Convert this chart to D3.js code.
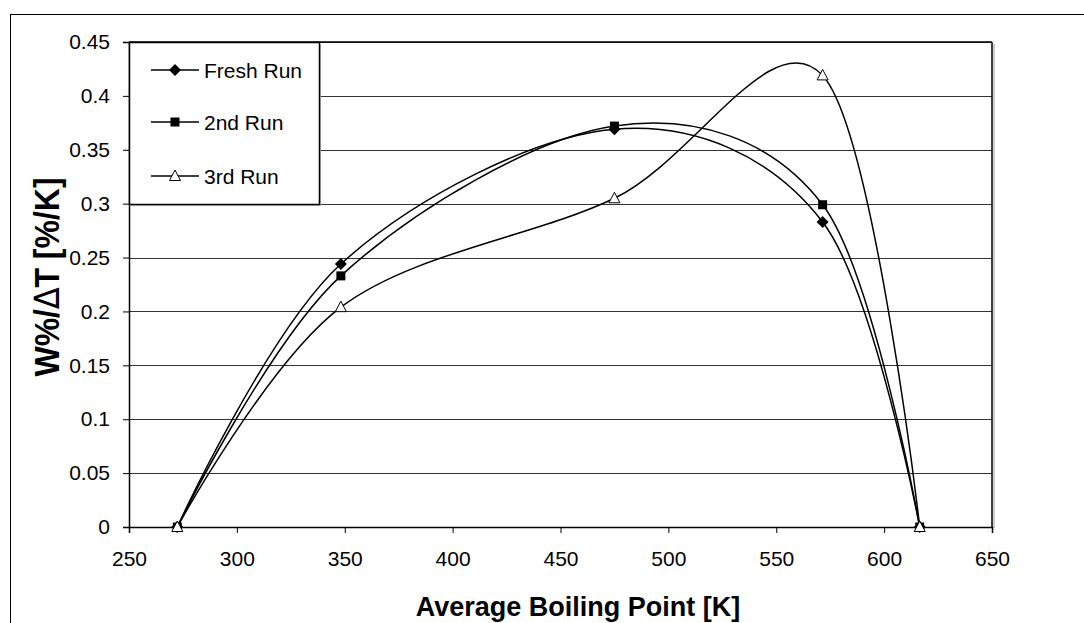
<!DOCTYPE html>
<html>
<head>
<meta charset="utf-8">
<script src="https://cdn.jsdelivr.net/npm/d3@7"></script>
<style>
  html, body { margin: 0; padding: 0; background: #fff; }
  svg { display: block; font-family: "Liberation Sans", Arial, sans-serif; }
</style>
</head>
<body>
<svg id="chart" width="1084" height="623"></svg>
<script>
// Average boiling point of each cut [K]
const boilingPoints = [272.4, 348.2, 475.0, 571.5, 616.5];
// Normalised mass fraction per kelvin for each run
const freshRun  = [0, 0.244, 0.369, 0.283, 0];
const secondRun = [0, 0.233, 0.372, 0.299, 0];
const thirdRun  = [0, 0.204, 0.305, 0.419, 0];
const seriesNames = ["Fresh Run", "2nd Run", "3rd Run"];
const xTicks = [250, 300, 350, 400, 450, 500, 550, 600, 650];
const yTicks = [0, 0.05, 0.1, 0.15, 0.2, 0.25, 0.3, 0.35, 0.4, 0.45];

const series = [
  { name: seriesNames[0], values: freshRun,  marker: "diamond" },
  { name: seriesNames[1], values: secondRun, marker: "square" },
  { name: seriesNames[2], values: thirdRun,  marker: "triangle" }
];

const svg = d3.select("#chart");
const plot = { left: 129, right: 992, top: 42, bottom: 527 };
const labelFont = 21;

const x = d3.scaleLinear().domain([250, 650]).range([plot.left, plot.right]);
const y = d3.scaleLinear().domain([0, 0.45]).range([plot.bottom, plot.top]);

// outer chart frame (runs past the right and bottom edges)
svg.append("rect")
  .attr("x", 10.5).attr("y", 14.5).attr("width", 1200).attr("height", 800)
  .attr("fill", "none").attr("stroke", "#000").attr("stroke-width", 1);

// plot-area shadow
svg.append("line")
  .attr("x1", plot.right + 2).attr("x2", plot.right + 2)
  .attr("y1", plot.top + 2).attr("y2", plot.bottom + 1)
  .attr("stroke", "#bbb").attr("stroke-width", 1.5);

// horizontal gridlines
svg.append("g").selectAll("line")
  .data(yTicks.filter(d => d > 0))
  .join("line")
  .attr("x1", plot.left).attr("x2", plot.right)
  .attr("y1", d => Math.round(y(d)) + 0.5).attr("y2", d => Math.round(y(d)) + 0.5)
  .attr("stroke", "#333").attr("stroke-width", 1);

// plot-area frame (top and right)
svg.append("line")
  .attr("x1", plot.left).attr("x2", plot.right)
  .attr("y1", plot.top).attr("y2", plot.top)
  .attr("stroke", "#000").attr("stroke-width", 1.5);
svg.append("line")
  .attr("x1", plot.right).attr("x2", plot.right)
  .attr("y1", plot.top).attr("y2", plot.bottom)
  .attr("stroke", "#000").attr("stroke-width", 1.5);

// axes
const xAxis = d3.axisBottom(x).tickValues(xTicks).tickSize(6).tickPadding(18)
  .tickFormat(d3.format("d"));
const gx = svg.append("g").attr("transform", `translate(0,${plot.bottom})`).call(xAxis);
gx.attr("font-size", labelFont).attr("font-family", null);
gx.select(".domain").attr("stroke", "#000").attr("stroke-width", 1.5);
gx.selectAll(".tick line").attr("stroke", "#000").attr("stroke-width", 1);
gx.selectAll(".tick text").attr("fill", "#000");

const yAxis = d3.axisLeft(y).tickValues(yTicks).tickSize(6).tickPadding(13)
  .tickFormat(d => d === 0 ? "0" : String(+d.toFixed(2)));
const gy = svg.append("g").attr("transform", `translate(${plot.left},0)`).call(yAxis);
gy.attr("font-size", labelFont).attr("font-family", null);
gy.select(".domain").attr("stroke", "#000").attr("stroke-width", 1.5);
gy.selectAll(".tick line").attr("stroke", "#000").attr("stroke-width", 1);
gy.selectAll(".tick text").attr("fill", "#000");

// axis titles
svg.append("text")
  .attr("x", 578).attr("y", 616)
  .attr("text-anchor", "middle")
  .attr("font-size", 27).attr("font-weight", "bold")
  .text("Average Boiling Point [K]");

const yTitle = svg.append("text")
  .attr("transform", "translate(59,277) scale(1.1,1) rotate(-90)")
  .attr("text-anchor", "middle")
  .attr("font-size", 32).attr("font-weight", "bold");
yTitle.append("tspan").text("W%/");
yTitle.append("tspan").attr("font-weight", "normal").attr("font-family", "DejaVu Sans").text("∆");
yTitle.append("tspan").text("T [%/K]");

// smoothed series lines
const line = d3.line()
  .x(d => x(d[0])).y(d => y(d[1]))
  .curve(d3.curveCatmullRom.alpha(0));

const lines = svg.append("g");
series.forEach(s => {
  lines.append("path")
    .datum(boilingPoints.map((b, i) => [b, s.values[i]]))
    .attr("d", line)
    .attr("fill", "none").attr("stroke", "#000").attr("stroke-width", 1.5);
});

// marker shapes
function drawMarker(g, type, cx, cy) {
  if (type === "diamond") {
    g.append("path")
      .attr("d", `M${cx},${cy - 6}L${cx + 6},${cy}L${cx},${cy + 6}L${cx - 6},${cy}Z`)
      .attr("fill", "#000");
  } else if (type === "square") {
    g.append("rect")
      .attr("x", cx - 4.5).attr("y", cy - 4.5).attr("width", 9).attr("height", 9)
      .attr("fill", "#000");
  } else {
    g.append("path")
      .attr("d", `M${cx},${cy - 6}L${cx + 5.5},${cy + 4.5}L${cx - 5.5},${cy + 4.5}Z`)
      .attr("fill", "#fff").attr("stroke", "#000").attr("stroke-width", 1);
  }
}

const markers = svg.append("g");
series.forEach(s => {
  boilingPoints.forEach((b, i) => drawMarker(markers, s.marker, x(b), y(s.values[i])));
});

// legend
const legend = svg.append("g");
legend.append("rect")
  .attr("x", 131).attr("y", 44).attr("width", 190).attr("height", 162)
  .attr("fill", "#bbb");
legend.append("rect")
  .attr("x", plot.left + 0.5).attr("y", plot.top + 0.5).attr("width", 190).attr("height", 162)
  .attr("fill", "#fff").attr("stroke", "#000").attr("stroke-width", 1.5);
const legendRows = [70, 122, 176];
series.forEach((s, i) => {
  const ly = legendRows[i];
  legend.append("line")
    .attr("x1", 151).attr("x2", 199).attr("y1", ly).attr("y2", ly)
    .attr("stroke", "#000").attr("stroke-width", 1.5);
  drawMarker(legend, s.marker, 175, ly);
  legend.append("text")
    .attr("x", 204).attr("y", ly + 7.5)
    .attr("font-size", labelFont).attr("fill", "#000")
    .text(s.name);
});
</script>
</body>
</html>
